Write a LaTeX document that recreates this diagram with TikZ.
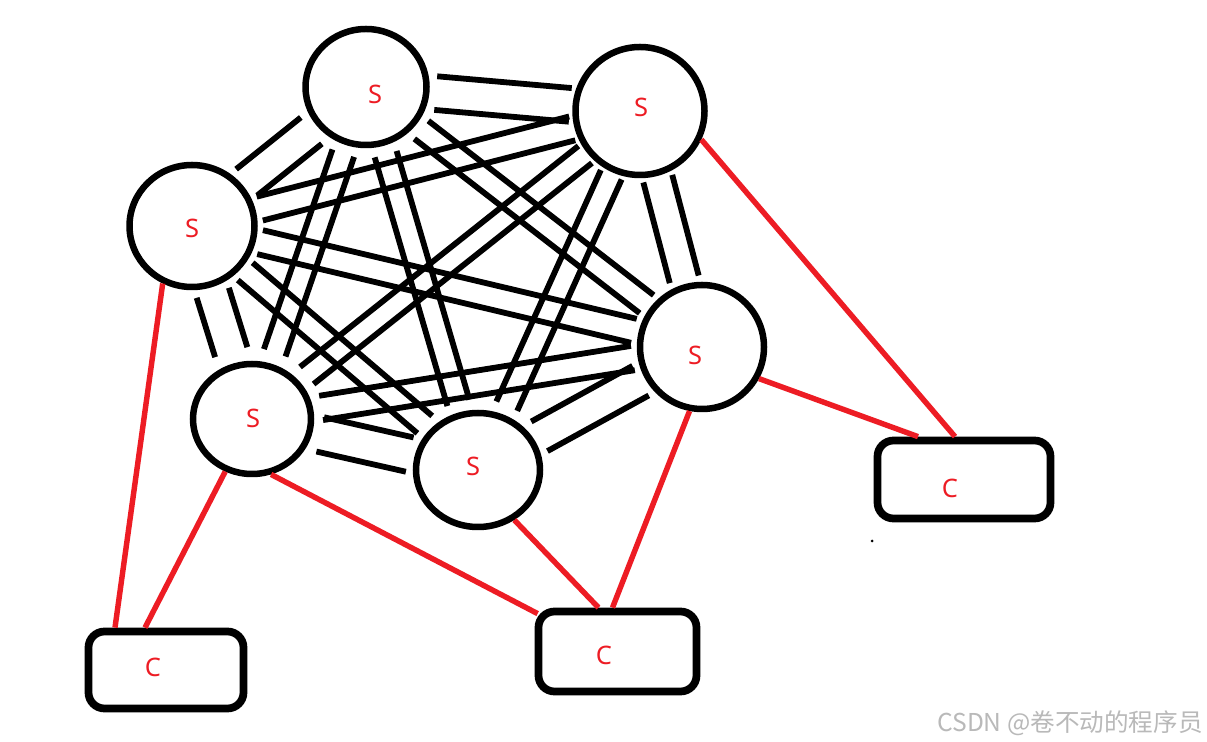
\documentclass[tikz,border=0pt]{standalone}
\usepackage{fontspec}
\setmainfont{Noto Sans}
\newfontfamily\cjkfont{Noto Sans CJK SC}
\usetikzlibrary{shapes.geometric,calc}
\definecolor{pred}{RGB}{237,28,36}
\definecolor{wmgray}{RGB}{185,185,185}
\newcommand\pairlines[3]{%
  \draw[blink] ($(#1.center)!#3!90:(#2.center)$) -- ($(#2.center)!#3!-90:(#1.center)$);
  \draw[blink] ($(#1.center)!#3!-90:(#2.center)$) -- ($(#2.center)!#3!90:(#1.center)$);}
\begin{document}
\begin{tikzpicture}[x=0.02cm,y=-0.02cm,
  snode/.style 2 args={ellipse,draw,line width=3.7pt,minimum width=#1*0.02cm,minimum height=#2*0.02cm,inner sep=0pt},
  cnode/.style 2 args={rectangle,draw,line width=4.4pt,rounded corners=0.32cm,minimum width=#1*0.02cm,minimum height=#2*0.02cm,inner sep=0pt},
  blink/.style={line width=3.3pt,shorten <=1.4cm,shorten >=1.4cm},
  rlink/.style={pred,line width=3.1pt},
  lbl/.style={text=pred,font=\fontsize{14.5}{14.5}\selectfont,inner sep=0pt}]
\useasboundingbox (0,0) rectangle (1207,742);
\fill[white] (0,0) rectangle (1207,742);

% server nodes
\node[snode={121}{116}] (S1) at (366,87) {};
\node[snode={129}{128}] (S2) at (640,111) {};
\node[snode={125}{122}] (S3) at (192,226) {};
\node[snode={124}{124}] (S4) at (702,347) {};
\node[snode={118}{110}] (S5) at (252,419) {};
\node[snode={124}{114}] (S6) at (478,470) {};

% client nodes
\node[cnode={155}{77}] (C1) at (166,670) {};
\node[cnode={158}{80}] (C2) at (617.5,651.5) {};
\node[cnode={173}{78}] (C3) at (964,479.5) {};

% labels
\node[lbl] (L1) at (375,94) {S};
\node[lbl] (L2) at (641,107) {S};
\node[lbl] (L3) at (192,228) {S};
\node[lbl] (L4) at (695,355) {S};
\node[lbl] (L5) at (253,418) {S};
\node[lbl] (L6) at (473,466) {S};
\node[lbl] (M1) at (153,667) {C};
\node[lbl] (M2) at (604,655) {C};
\node[lbl] (M3) at (950,488) {C};

% double black links (outer ring)
\pairlines{S1}{S2}{9.6pt}
\pairlines{S2}{S4}{8.5pt}
\pairlines{S4}{S6}{9.6pt}
\pairlines{S6}{S5}{10pt}
\pairlines{S5}{S3}{9.6pt}
\pairlines{S3}{S1}{9.6pt}
% double black links (diagonals)
\pairlines{S1}{S4}{6.5pt}
\pairlines{S1}{S5}{6.5pt}
\pairlines{S1}{S6}{6.5pt}
\pairlines{S2}{S3}{7pt}
\pairlines{S2}{S5}{6.2pt}
\pairlines{S2}{S6}{6.5pt}
\pairlines{S3}{S4}{7pt}
\pairlines{S3}{S6}{6.5pt}
\pairlines{S4}{S5}{7pt}

% red links
\draw[rlink] (S2.-25) -- ($(C3.north)+(-9,0)$);
\draw[rlink] (S4.-29) -- ($(C3.north)+(-46,0)$);
\draw[rlink] (S3.-117) -- ($(C1.north)+(-51,0)$);
\draw[rlink] (S5.-117) -- ($(C1.north)+(-21,0)$);
\draw[rlink] (S5.-71) -- ($(C2.north west)+(3,6)$);
\draw[rlink] (S6.-54) -- ($(C2.north)+(-19,0)$);
\draw[rlink] (S4.-101) -- ($(C2.north)+(-5,0)$);

% stray dot
\fill (872,541) circle (1.5);

% watermark
\node[anchor=base east,text=wmgray,font=\cjkfont\fontsize{14}{14}\selectfont,inner sep=0pt] (wm) at (1203,731) {CSDN @卷不动的程序员};
\end{tikzpicture}
\end{document}
